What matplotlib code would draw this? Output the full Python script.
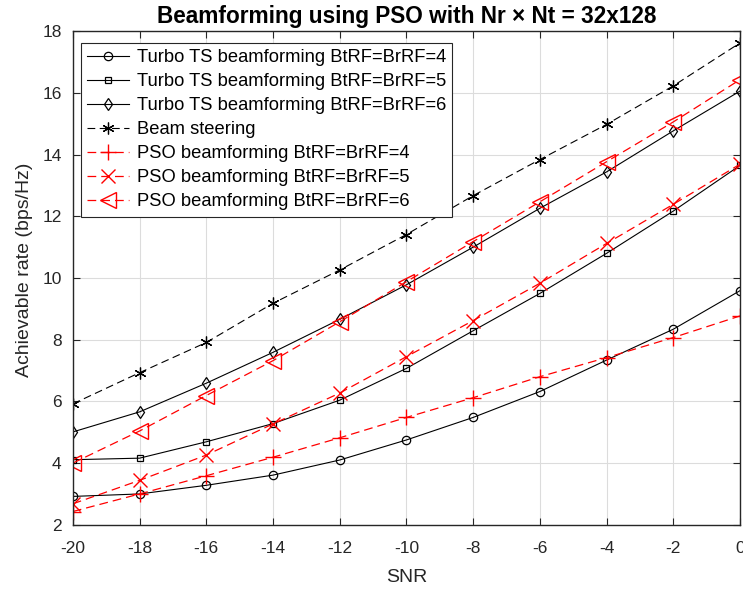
import numpy as np
import matplotlib
matplotlib.use('Agg')
from matplotlib import pyplot as plt

plt.rcParams['font.family'] = ['Liberation Sans', 'DejaVu Sans']
plt.rcParams['axes.unicode_minus'] = False

snr = [-20, -18, -16, -14, -12, -10, -8, -6, -4, -2, 0]

# Turbo TS beamforming
ts4 = [2.92, 3.00, 3.28, 3.61, 4.10, 4.75, 5.48, 6.32, 7.34, 8.34, 9.59]
ts5 = [4.11, 4.16, 4.69, 5.28, 6.04, 7.07, 8.29, 9.50, 10.80, 12.17, 13.65]
ts6 = [5.01, 5.66, 6.59, 7.59, 8.66, 9.78, 11.00, 12.26, 13.44, 14.77, 16.06]
# beam steering
bs = [5.92, 6.93, 7.91, 9.18, 10.26, 11.41, 12.67, 13.84, 14.98, 16.23, 17.62]
# PSO beamforming
pso4 = [2.43, 3.00, 3.59, 4.19, 4.82, 5.48, 6.12, 6.80, 7.42, 8.07, 8.77]
pso5 = [2.68, 3.44, 4.26, 5.27, 6.27, 7.45, 8.62, 9.83, 11.12, 12.39, 13.69]
pso6 = [4.00, 5.04, 6.19, 7.32, 8.58, 9.88, 11.18, 12.47, 13.77, 15.06, 16.43]

labels = ['Turbo TS beamforming BtRF=BrRF=4',
          'Turbo TS beamforming BtRF=BrRF=5',
          'Turbo TS beamforming BtRF=BrRF=6',
          'Beam steering',
          'PSO beamforming BtRF=BrRF=4',
          'PSO beamforming BtRF=BrRF=5',
          'PSO beamforming BtRF=BrRF=6']

fig = plt.figure(figsize=(7.43, 5.89), dpi=100)
ax = fig.add_axes([0.098, 0.109, 0.898, 0.838])

dash = (0, (7, 4))
star = (6, 2, 0)  # asterisk like matlab '*'
ax.plot(snr, ts4, '-', color='k', lw=0.8, marker='o', ms=6, mfc='none', mew=0.9, label=labels[0])
ax.plot(snr, ts5, '-', color='k', lw=0.8, marker='s', ms=5, mfc='none', mew=0.9, label=labels[1])
ax.plot(snr, ts6, '-', color='k', lw=0.8, marker='d', ms=6.5, mfc='none', mew=0.9, label=labels[2])
ax.plot(snr, bs, linestyle=dash, color='k', lw=0.8, marker=star, ms=8.5, mew=0.9, label=labels[3])
ax.plot(snr, pso4, linestyle=dash, color='r', lw=0.9, marker='+', ms=11, mew=1.0, label=labels[4])
ax.plot(snr, pso5, linestyle=dash, color='r', lw=0.9, marker='x', ms=10, mew=1.0, label=labels[5])
ax.plot(snr, pso6, linestyle=dash, color='r', lw=0.9, marker='<', ms=11, mfc='none', mew=1.0, label=labels[6])

ax.set_xlim(-20, 0)
ax.set_ylim(2, 18)
ax.set_xticks(snr)
ax.set_yticks(np.arange(2, 19, 2))
ax.grid(True, color='#dcdcdc', lw=0.8)
ax.set_axisbelow(True)
ax.tick_params(direction='in', top=True, right=True, length=5, width=0.8,
               labelsize=12.5, colors='#262626')
ax.tick_params(axis='x', pad=12)
ax.tick_params(axis='y', pad=8)
for sp in ax.spines.values():
    sp.set_color('#262626')
    sp.set_linewidth(1.0)

ax.set_xlabel('SNR', fontsize=14, color='#262626', labelpad=9)
ax.set_ylabel('Achievable rate (bps/Hz)', fontsize=14, color='#262626')
ax.yaxis.set_label_coords(-0.06, 0.516)
ax.set_title('Beamforming using PSO with Nr \u00d7 Nt = 32x128', fontsize=16.3,
             fontweight='bold', pad=6)

leg = ax.legend(loc='upper left', bbox_to_anchor=(0.012, 0.976), borderaxespad=0,
                fontsize=13.2, frameon=True, fancybox=False, edgecolor='#262626',
                framealpha=1, handlelength=2.3, labelspacing=0.38, borderpad=0.35,
                handletextpad=0.4)
leg.get_frame().set_linewidth(0.8)

fig.savefig('out.png', dpi=100)
